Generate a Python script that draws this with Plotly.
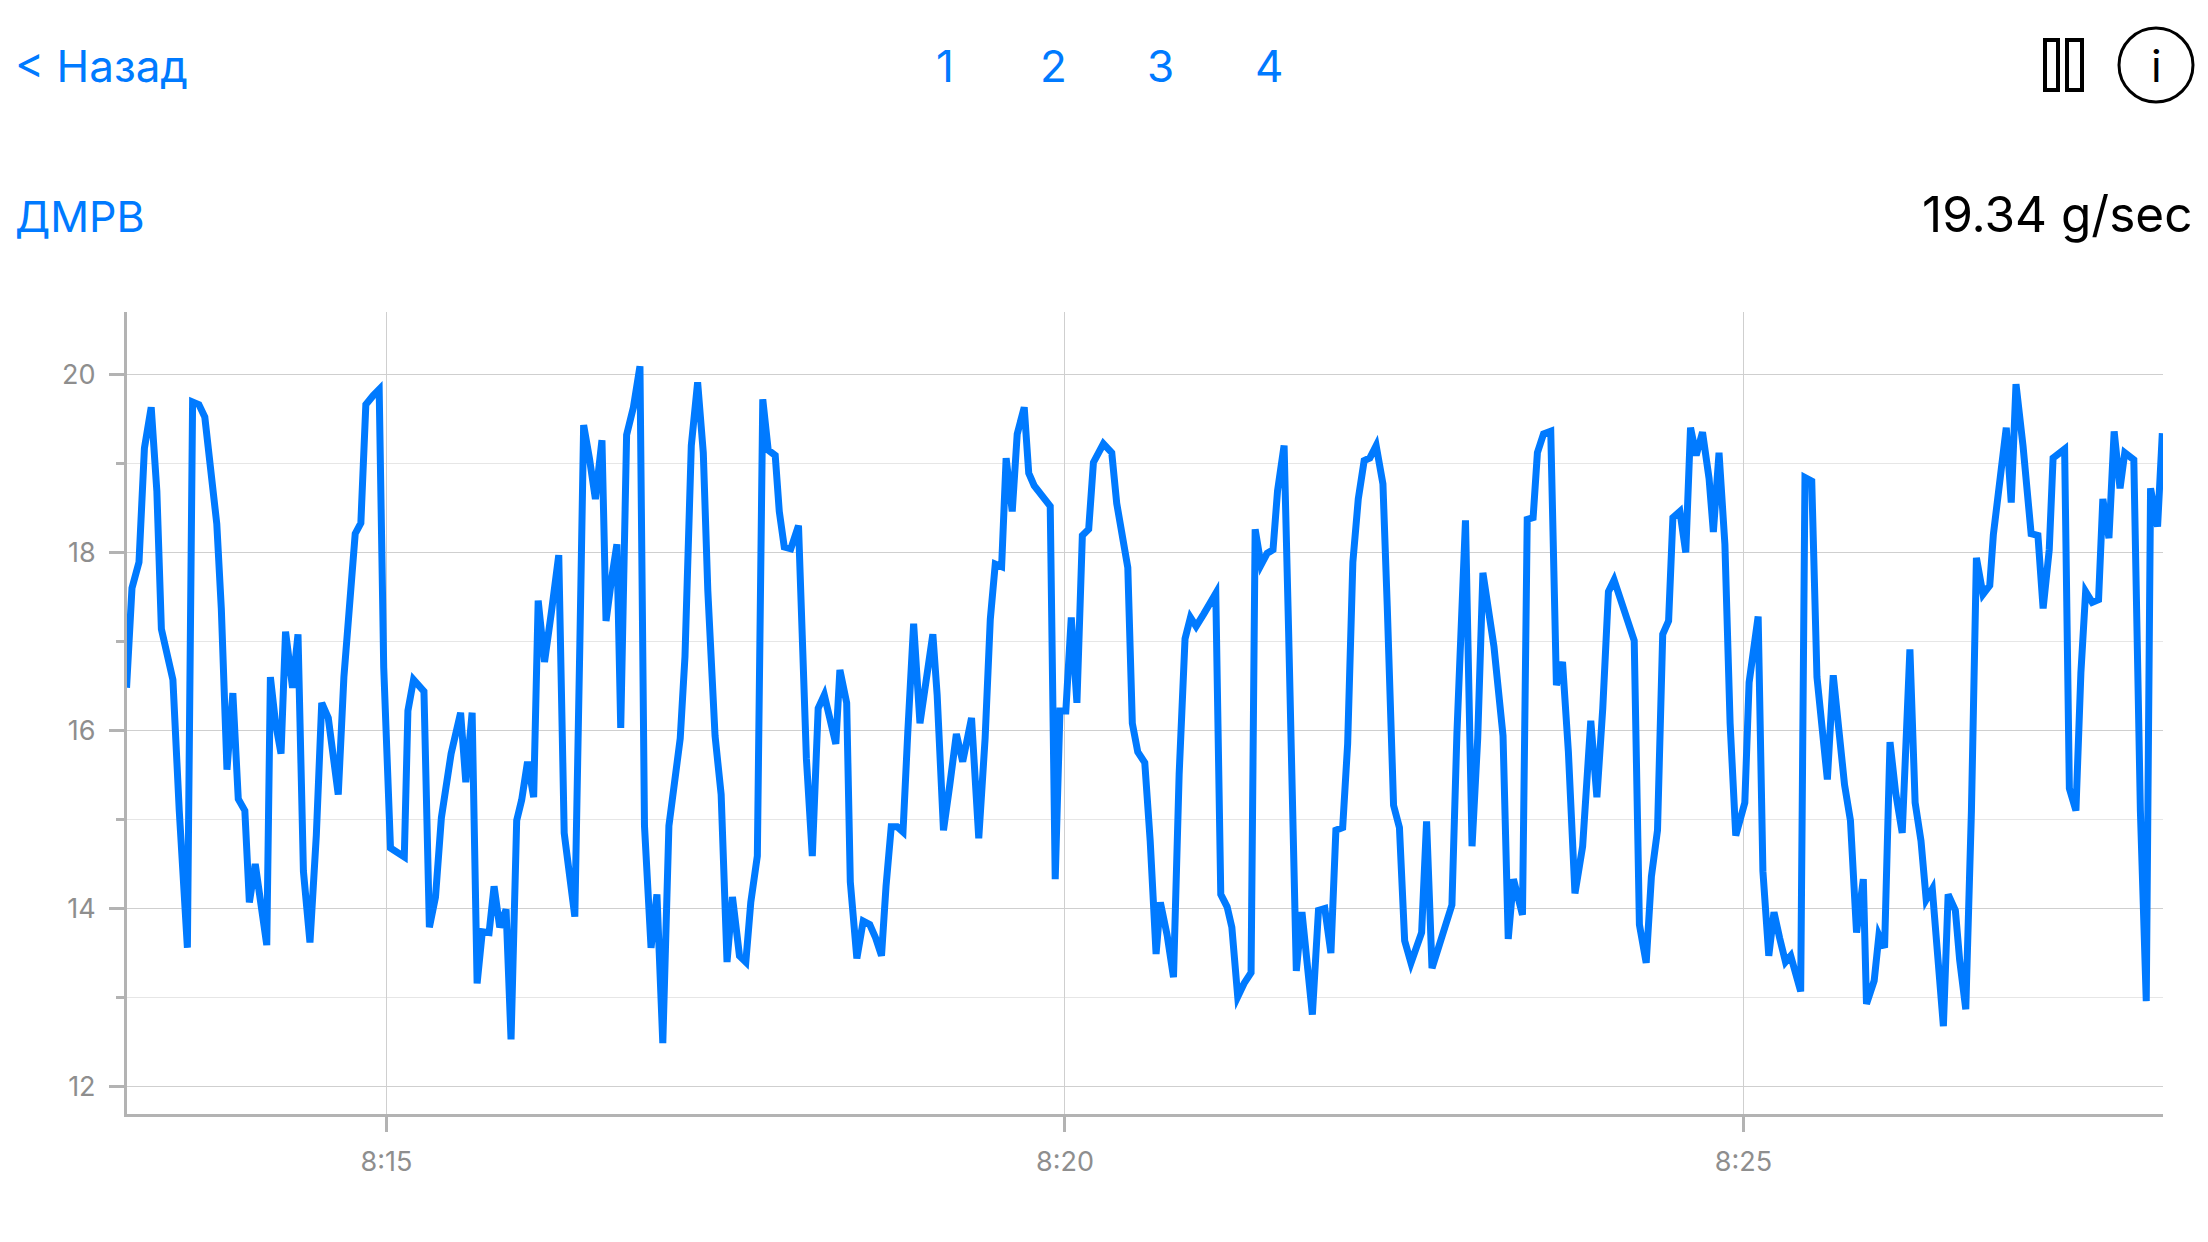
import pandas as pd
import plotly.graph_objects as go

# seconds after 08:13:00 and readings in g/sec
seconds_a = [5.1,7.5,10.6,13.0,16.0,18.5,20.5,22.9,25.6,28.4,32.0,34.3,37.1,39.7,42.2,45.0,47.0,49.5,52.1,54.5,57.4,59.4,62.0,64.7,67.1,68.7,71.0,73.4,75.4,78.5,80.9,83.3,86.2,89.0,91.4,94.3,95.9,98.7,101.2,103.8,106.2,108.7,110.9,114.1,116.8,118.8,121.8,127.9,129.5,132.0,134.2,136.6,139.0,141.7,144.3,146.8,148.6,152.8,155.1,157.9,160.1,162.4,165.4,167.6,170.1,172.9,175.1,177.6,179.8,182.4,185.1,187.1,189.9,193.0,196.2,198.6,200.9,203.3,205.5,207.2,209.8,212.4,215.3,217.1,219.5,221.9,223.6,226.2,229.2,232.1,234.1,237.0,239.6,242.2,244.9,246.9,249.9,252.0,254.8,257.6,260.1,262.1,265.3,268.0,270.6,273.0,276.1,278.9,281.1,284.0,286.4,288.8,291.9,293.7,295.9,298.8]
values_a = [16.48,17.6,17.89,19.17,19.63,18.69,17.14,16.85,16.57,15.1,13.56,19.69,19.66,19.52,18.89,18.32,17.37,15.56,16.42,15.23,15.1,14.07,14.5,14.02,13.59,16.6,16.08,15.74,17.11,16.48,17.08,14.42,13.62,14.82,16.31,16.14,15.79,15.28,16.6,17.45,18.21,18.33,19.66,19.76,19.83,16.71,14.68,14.58,16.22,16.57,16.51,16.44,13.79,14.13,15.02,15.39,15.74,16.2,15.42,16.2,13.16,13.74,13.73,14.25,13.79,13.99,12.53,14.99,15.22,15.65,15.25,17.46,16.77,17.34,17.97,14.85,14.36,13.91,16.94,19.43,19.05,18.6,19.26,17.23,17.69,18.09,16.03,19.32,19.63,20.09,14.93,13.56,14.16,12.49,14.93,15.39,15.91,16.83,19.2,19.91,19.12,17.57,15.94,15.28,13.4,14.13,13.47,13.4,14.07,14.59,19.72,19.15,19.09,18.46,18.06,18.04]

seconds_b = [302.2,304.1,305.7,308.3,310.9,313.6,316.0,318.7,320.5,323.5,325.1,328.0,330.8,333.7,336.3,338.9,340.9,343.2,345.8,348.4,350.5,353.1,355.9,358.6,361.6,363.5,366.3,369.1,372.0,374.8,378.7,381.9,384.7,387.0,389.2,392.0,394.0,396.7,398.9,402.0,404.0,406.4,413.5,415.7,417.8,420.4,422.8,425.3,427.7,430.5,432.6,437.0,440.7,442.9,445.5,447.8,449.8,452.2,455.3,457.7,460.3,462.2,465.2,468.0,470.5,473.1,475.5,478.0,481.4,486.7,488.9,491.7,493.8,496.4,499.2,502.3,504.1,506.7,509.4,512.0,514.0,516.9,518.9,522.3,524.8,529.4,532.1,534.9,537.6,539.8,542.8,545.0,547.3,549.7,552.3,554.8,557.6,560.6,562.5,565.3,567.9,570.2,573.0,577.7,579.9,582.3,588.0,591.1,593.3,597.1]
values_b = [18.3,16.88,15.68,14.59,16.25,16.4,16.14,15.85,16.68,16.31,14.3,13.44,13.86,13.82,13.67,13.47,14.25,14.92,14.92,14.86,15.97,17.2,16.08,16.54,17.08,16.4,14.88,15.39,15.96,15.65,16.14,14.79,15.91,17.25,17.87,17.84,19.06,18.46,19.33,19.63,18.89,18.75,18.52,14.33,16.22,16.22,17.27,16.31,18.19,18.26,19.01,19.22,19.12,18.55,18.17,17.83,16.08,15.76,15.64,14.76,13.49,14.07,13.7,13.23,15.51,17.03,17.27,17.17,17.31,17.54,14.16,14.02,13.79,13.01,13.16,13.28,18.26,17.86,17.99,18.03,18.69,19.2,17.11,13.3,13.96,12.81,13.98,14.0,13.5,14.88,14.91,15.85,17.89,18.6,19.03,19.06,19.2,18.77,17.4,15.16,14.91,13.64,13.39,13.73,14.98,13.33,13.79,14.04,15.96,18.36]

seconds_c = [600.0,602.5,604.8,607.3,609.7,613.7,616.0,618.3,622.3,624.4,627.0,628.9,631.6,634.8,637.3,640.0,642.6,645.5,648.9,652.5,655.2,657.8,660.3,662.8,667.5,671.7,674.0,677.0,679.3,682.0,684.3,686.9,688.8,691.9,694.5,696.6,699.1,701.9,704.8,706.7,709.2,711.8,714.1,716.6,720.6,722.5,726.5,728.6,731.2,733.5,736.0,738.6,740.9,743.0,745.3,747.2,750.2,752.5,757.1,759.7,762.4,764.7,767.3,770.0,773.0,774.4,777.8,779.9,782.4,784.8,787.3,790.2,793.6,795.9,798.5,800.8,803.5,805.6,808.4,810.5,813.7,815.6,818.3,820.8,823.0,825.9,828.9,830.5,833.5,836.2,838.4,840.5,843.6,847.2,850.2,852.5,855.2,856.9,862.0,864.1,867.0,869.2,871.3,874.2,877.0,878.9,881.6,883.9,886.5,888.6,892.6,893.8,895.5,898.1,900.0,903.1,905.2]
values_c = [14.7,15.91,17.77,17.34,16.94,15.94,13.66,14.33,13.93,18.37,18.39,19.12,19.33,19.36,16.51,16.77,15.76,14.17,14.7,16.11,15.25,16.25,17.56,17.69,17.31,17.01,13.82,13.39,14.36,14.88,17.08,17.23,18.39,18.46,18.0,19.4,19.09,19.35,18.83,18.23,19.12,18.09,16.08,14.82,15.19,16.54,17.28,14.42,13.47,13.96,13.67,13.4,13.47,13.24,13.07,18.84,18.8,16.6,15.45,16.62,15.91,15.39,14.99,13.73,14.33,12.93,13.19,13.7,13.56,15.87,15.3,14.85,16.91,15.19,14.76,14.1,14.22,13.56,12.68,14.16,13.98,13.42,12.87,15.1,17.94,17.53,17.63,18.2,18.86,19.4,18.56,19.89,19.2,18.21,18.19,17.37,18.03,19.06,19.16,15.35,15.1,16.65,17.56,17.44,17.47,18.6,18.16,19.36,18.72,19.12,19.04,17.11,15.1,12.96,18.72,18.29,19.34]

x_tick_labels = ["8:15", "8:20", "8:25"]
x_tick_times = ["2020-01-01 08:15:00", "2020-01-01 08:20:00", "2020-01-01 08:25:00"]
y_ticks = [12, 14, 16, 18, 20]
nav_pages = ["1", "2", "3", "4"]

start = pd.Timestamp("2020-01-01 08:13:00")
seconds = seconds_a + seconds_b + seconds_c
values = values_a + values_b + values_c
times = [start + pd.Timedelta(seconds=s) for s in seconds]

L, R, T, B = 127, 2163, 312, 1114
BLUE = "#007aff"
AXIS = "#b3b3b3"
FONT = "Inter"
TICK_COLOR = "#8e8e8e"


def px(x):
    return (x - L) / (R - L)


def py(y):
    return (B - y) / (B - T)


fig = go.Figure(go.Scatter(x=times, y=values, mode="lines",
                           line=dict(color=BLUE, width=7), hoverinfo="skip"))


def label(x, y, text, color=BLUE, size=44, anchor="left"):
    fig.add_annotation(xref="paper", yref="paper", x=px(x), y=py(y), text=text,
                       showarrow=False, xanchor=anchor, yanchor="middle",
                       font=dict(family=FONT, size=size, color=color),
                       borderpad=0, borderwidth=0)


label(15, 66, "&lt; Назад")
for page, cx in zip(nav_pages, [945, 1053, 1160, 1269]):
    label(cx, 66, page, anchor="center")
label(15, 216, "ДМРВ", size=43)
label(2192, 214, "19.34 g/sec", color="black", size=49.5, anchor="right")
label(2156, 66, "i", color="black", anchor="center")

icons = [("rect", 2045, 40, 2058, 90, 4), ("rect", 2067, 40, 2082, 90, 4),
         ("circle", 2119, 28, 2193, 102, 3)]
for kind, x0, y0, x1, y1, w in icons:
    fig.add_shape(type=kind, xref="paper", yref="paper", x0=px(x0), x1=px(x1),
                  y0=py(y0), y1=py(y1), line=dict(color="black", width=w))

fig.update_layout(
    width=2208, height=1242, autosize=False,
    margin=dict(l=L, r=2208 - R, t=T, b=1242 - B, pad=0),
    paper_bgcolor="white", plot_bgcolor="white", showlegend=False,
    font=dict(family=FONT, size=27, color=TICK_COLOR),
)
fig.update_xaxes(
    type="date",
    range=[start + pd.Timedelta(seconds=5.3), start + pd.Timedelta(seconds=905.5)],
    tickmode="array", tickvals=x_tick_times, ticktext=x_tick_labels,
    showline=True, linecolor=AXIS, linewidth=3,
    ticks="outside", ticklen=15, tickwidth=3, tickcolor=AXIS,
    showgrid=True, gridcolor="#cfcfcf", gridwidth=1, zeroline=False,
    ticklabelstandoff=7,
    tickfont=dict(family=FONT, size=27, color=TICK_COLOR),
)
fig.update_yaxes(
    range=[11.693, 20.70],
    tickmode="array", tickvals=y_ticks,
    showline=True, linecolor=AXIS, linewidth=3,
    ticks="outside", ticklen=15, tickwidth=3, tickcolor=AXIS,
    showgrid=True, gridcolor="#cfcfcf", gridwidth=1, zeroline=False,
    ticklabelstandoff=8,
    tickfont=dict(family=FONT, size=27, color=TICK_COLOR),
    minor=dict(tickvals=[13, 15, 17, 19], ticks="outside", ticklen=8, tickwidth=3,
               tickcolor=AXIS, showgrid=True, gridcolor="#e6e6e6", gridwidth=1),
)

fig.write_html(
    "out.html",
    config={"displayModeBar": False},
    post_script="document.body.style.margin='0';"
    "document.querySelectorAll('.js-line').forEach(function(e){e.style.strokeMiterlimit='4';});",
)
